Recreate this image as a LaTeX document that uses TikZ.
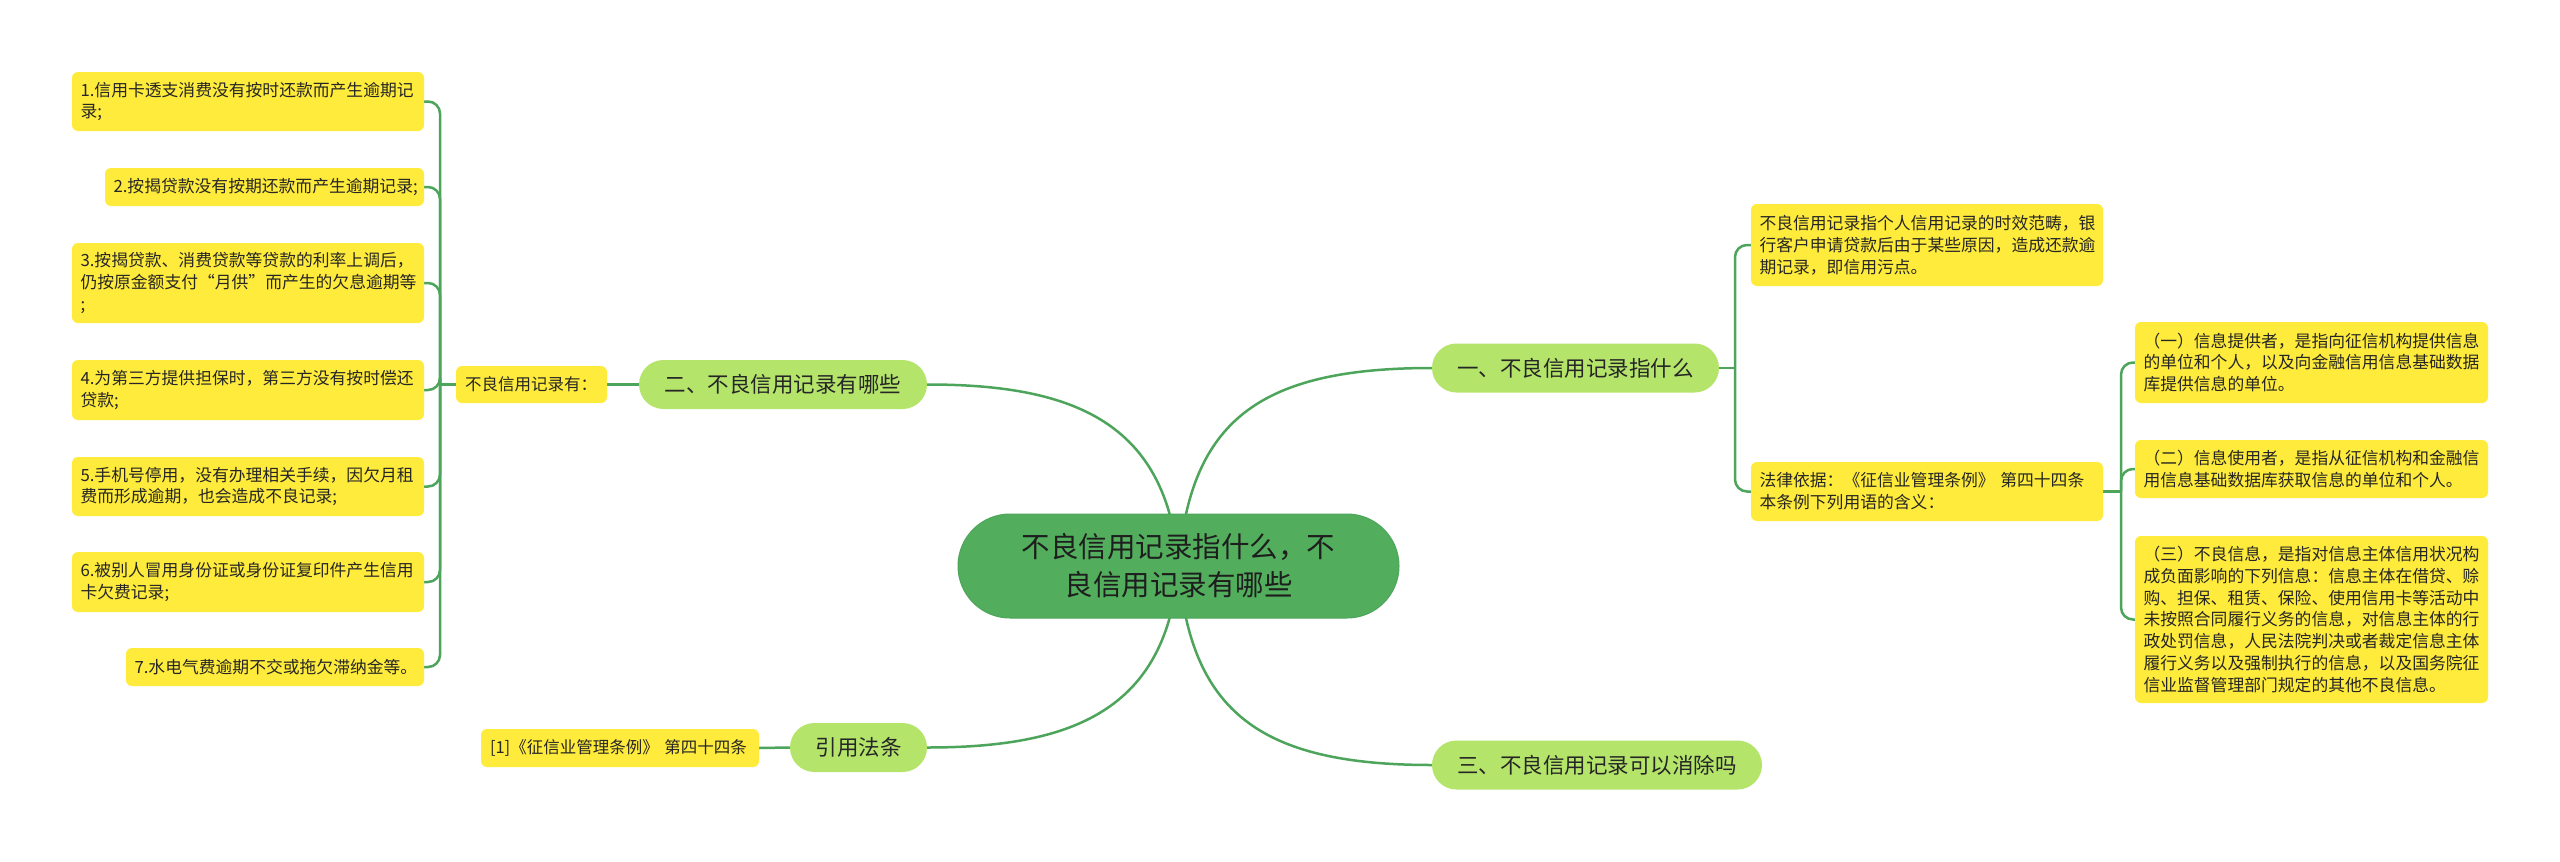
\documentclass[tikz,border=0pt]{standalone}
\usepackage{fontspec}
\setmainfont{Noto Sans CJK SC}
\definecolor{linec}{HTML}{4DA55B}
\definecolor{rootc}{HTML}{52AE5C}
\definecolor{branchc}{HTML}{B4E46A}
\definecolor{leafc}{HTML}{FFEB3B}
\definecolor{txt}{HTML}{262626}
\pgfdeclarelayer{bg}
\pgfsetlayers{bg,main}
\begin{document}
\begin{tikzpicture}[x=1pt,y=-1pt,
  leaf/.style={fill=leafc, rounded corners=6pt, text width=#1, inner xsep=8.5pt, inner ysep=3pt, align=left, font=\fontsize{16.8}{21.8}\selectfont, text=txt},
  small/.style={fill=leafc, rounded corners=6pt, text width=#1, inner xsep=9pt, inner ysep=3pt, align=left, font=\fontsize{16.5}{20}\selectfont, text=txt},
  branch/.style={fill=branchc, rounded corners=24.5pt, inner sep=0pt, minimum height=49pt, font=\fontsize{21.5}{26}\selectfont, text=txt},
  root/.style={fill=rootc, draw=linec, line width=1pt, rounded corners=52pt, minimum width=441pt, minimum height=104pt, align=center, font=\fontsize{28.5}{38}\selectfont, text=txt!80!black},
  conn/.style={draw=linec, line width=2.5pt},
  bracket/.style={draw=linec, line width=2.5pt, rounded corners=12pt}]
\useasboundingbox (0,0) rectangle (2560,862);
\begin{pgfonlayer}{bg}
\fill[white] (0,0) rectangle (2560,862);
\end{pgfonlayer}

% root
\node[root] (c) at (1178.5,566) {不良信用记录指什么，不\\良信用记录有哪些};

% branches
\node[branch, minimum width=288pt] (er) at (783,384.5) {二、不良信用记录有哪些};
\node[branch, minimum width=137pt] (yy) at (858.5,747.5) {引用法条};
\node[branch, minimum width=287pt] (yi) at (1575.5,368) {一、不良信用记录指什么};
\node[branch, minimum width=330pt] (san) at (1597,765) {三、不良信用记录可以消除吗};

% left side
\node[small=133pt, minimum height=37pt] (rec) at (531.5,384.5) {不良信用记录有：};
\node[small=260pt, minimum height=38pt] (cite) at (620,748) {[1]《征信业管理条例》 第四十四条};

\node[leaf=335pt, minimum height=59pt] (l1) at (248,101.5) {1.信用卡透支消费没有按时还款而产生逾期记\\录;};
\node[leaf=302pt, minimum height=38pt] (l2) at (264.5,187) {2.按揭贷款没有按期还款而产生逾期记录;};
\node[leaf=335pt, minimum height=80pt] (l3) at (248,283) {3.按揭贷款、消费贷款等贷款的利率上调后，\\仍按原金额支付“月供”而产生的欠息逾期等\\;};
\node[leaf=335pt, minimum height=60pt] (l4) at (248,390) {4.为第三方提供担保时，第三方没有按时偿还\\贷款;};
\node[leaf=335pt, minimum height=59pt] (l5) at (248,486.5) {5.手机号停用，没有办理相关手续，因欠月租\\费而形成逾期，也会造成不良记录;};
\node[leaf=335pt, minimum height=60pt] (l6) at (248,582) {6.被别人冒用身份证或身份证复印件产生信用\\卡欠费记录;};
\node[leaf=281pt, minimum height=38pt] (l7) at (275,667) {7.水电气费逾期不交或拖欠滞纳金等。};

% right side
\node[leaf=335pt, minimum height=82pt] (def) at (1927,245) {不良信用记录指个人信用记录的时效范畴，银\\行客户申请贷款后由于某些原因，造成还款逾\\期记录，即信用污点。};
\node[leaf=335pt, minimum height=59pt] (law) at (1927,491.5) {法律依据：《征信业管理条例》 第四十四条\\本条例下列用语的含义：};
\node[leaf=336pt, minimum height=81pt] (r1) at (2311.5,362.5) {（一）信息提供者，是指向征信机构提供信息\\的单位和个人，以及向金融信用信息基础数据\\库提供信息的单位。};
\node[leaf=336pt, minimum height=58pt] (r2) at (2311.5,469) {（二）信息使用者，是指从征信机构和金融信\\用信息基础数据库获取信息的单位和个人。};
\node[leaf=336pt, minimum height=167pt] (r3) at (2311.5,619.5) {（三）不良信息，是指对信息主体信用状况构\\成负面影响的下列信息：信息主体在借贷、赊\\购、担保、租赁、保险、使用信用卡等活动中\\未按照合同履行义务的信息，对信息主体的行\\政处罚信息，人民法院判决或者裁定信息主体\\履行义务以及强制执行的信息，以及国务院征\\信业监督管理部门规定的其他不良信息。};

\coordinate (lb) at (440,384.5);
\coordinate (b1) at (1735,368);
\coordinate (b2) at (2121,491.5);

\begin{pgfonlayer}{bg}
% root connectors
\draw[conn] (c.center) .. controls (1167,420) and (1070,384.5) .. (er.east);
\draw[conn] (c.center) .. controls (1190,420) and (1260,368) .. (yi.west);
\draw[conn] (c.center) .. controls (1190,712) and (1260,765) .. (san.west);
\draw[conn] (c.center) .. controls (1167,712) and (1070,747.5) .. (yy.east);
% left
\draw[conn] (er.west) -- (rec.east);
\draw[conn] (yy.west) -- (cite.east);
\draw[conn] (rec.west) -- (lb);
\foreach \n in {l1,l2,l3,l4,l5,l6,l7} \draw[bracket] (lb) |- (\n.east);
% right
\draw[conn] (yi.east) -- (b1);
\draw[bracket] (b1) |- (def.west);
\draw[bracket] (b1) |- (law.west);
\draw[conn] (law.east) -- (b2);
\foreach \n in {r1,r2,r3} \draw[bracket] (b2) |- (\n.west);
\end{pgfonlayer}
\end{tikzpicture}
\end{document}
